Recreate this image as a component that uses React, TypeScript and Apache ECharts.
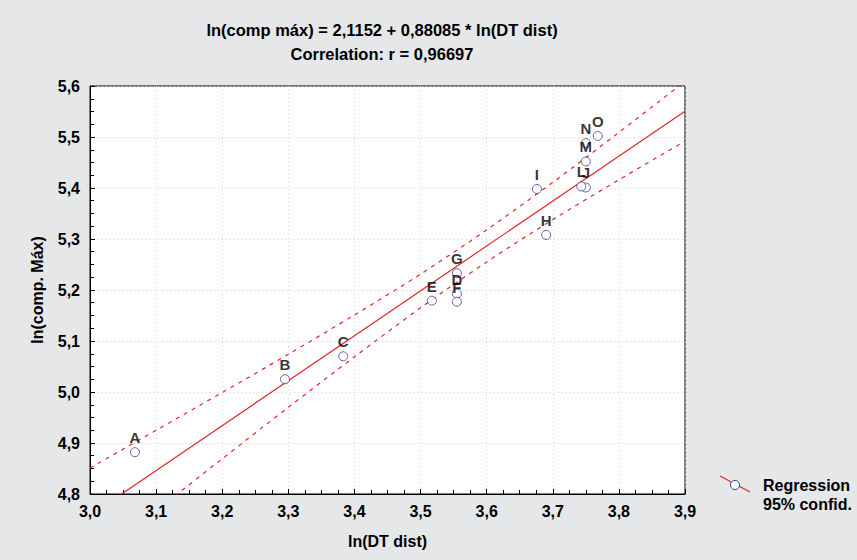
import React, { useEffect, useRef } from "react";
import * as echarts from "echarts";

const pointLabels = ["A", "B", "C", "D", "E", "F", "G", "H", "I", "J", "L", "M", "N", "O"];
const pointX = [3.068, 3.295, 3.383, 3.555, 3.517, 3.555, 3.555, 3.690, 3.676, 3.750, 3.743, 3.750, 3.750, 3.768];
const pointY = [4.882, 5.025, 5.070, 5.193, 5.179, 5.177, 5.233, 5.308, 5.398, 5.401, 5.403, 5.452, 5.488, 5.502];

const regX = [3.0, 3.9];
const regY = [4.7578, 5.5506];

const bandX = [3.0, 3.1, 3.2, 3.3, 3.4, 3.5, 3.6, 3.7, 3.8, 3.9];
const bandUpper = [4.851, 4.925, 4.999, 5.074, 5.151, 5.231, 5.318, 5.411, 5.509, 5.609];
const bandLower = [4.665, 4.767, 4.869, 4.970, 5.069, 5.165, 5.255, 5.338, 5.416, 5.492];

const titleLines = ["ln(comp máx) = 2,1152 + 0,88085 * ln(DT dist)", "Correlation: r = 0,96697"];
const xName = "ln(DT dist)";
const yName = "ln(comp. Máx)";
const legendLines = ["Regression", "95% confid."];

const FONT = "'Liberation Sans', Arial, sans-serif";
const RED = "#e3242b";
const BLUE = "#3a3d9e";

export default function App() {
  const ref = useRef<HTMLDivElement>(null);
  useEffect(() => {
    if (!ref.current) return;
    const chart = echarts.init(ref.current, undefined, { renderer: "svg" });
    const fmt = (v: number) => v.toFixed(1).replace(".", ",");
    chart.setOption({
      animation: false,
      backgroundColor: "#e6e7e9",
      textStyle: { fontFamily: FONT },
      title: {
        text: titleLines.join("\n"),
        left: 377,
        top: 13,
        textAlign: "center",
        textStyle: { fontFamily: FONT, fontSize: 16.5, fontWeight: "bold", color: "#000", lineHeight: 24 },
      },
      grid: {
        left: 90,
        right: 172,
        top: 86,
        bottom: 66,
        show: true,
        backgroundColor: "#ffffff",
        borderColor: "#000",
        borderWidth: 1,
      },
      xAxis: {
        type: "value",
        min: 3.0,
        max: 3.9,
        interval: 0.1,
        name: xName,
        nameLocation: "middle",
        nameGap: 39,
        nameTextStyle: { fontFamily: FONT, fontSize: 16, fontWeight: "bold", color: "#000" },
        axisLine: { show: true, onZero: false, lineStyle: { color: "#000", width: 1 } },
        axisTick: { show: true, inside: true, length: 5, lineStyle: { color: "#000" } },
        minorTick: { show: true, splitNumber: 4, length: 4, lineStyle: { color: "#000" } },
        axisLabel: { formatter: fmt, fontFamily: FONT, fontSize: 16, fontWeight: "bold", color: "#000", margin: 9 },
        splitLine: { show: true, lineStyle: { color: "#cfcfcf", type: [1, 3] } },
      },
      yAxis: {
        type: "value",
        min: 4.8,
        max: 5.6,
        interval: 0.1,
        name: yName,
        nameLocation: "middle",
        nameGap: 45,
        nameTextStyle: { fontFamily: FONT, fontSize: 16, fontWeight: "bold", color: "#000" },
        axisLine: { show: true, onZero: false, lineStyle: { color: "#000", width: 1 } },
        axisTick: { show: true, inside: true, length: 5, lineStyle: { color: "#000" } },
        minorTick: { show: true, splitNumber: 4, length: 4, lineStyle: { color: "#000" } },
        axisLabel: { formatter: fmt, fontFamily: FONT, fontSize: 16, fontWeight: "bold", color: "#000", margin: 10 },
        splitLine: { show: true, lineStyle: { color: "#cfcfcf", type: [1, 3] } },
      },
      series: [
        {
          type: "line",
          data: regX.map((x, i) => [x, regY[i]]),
          showSymbol: false,
          symbol: "none",
          clip: true,
          lineStyle: { color: RED, width: 1.2 },
          z: 2,
        },
        {
          type: "line",
          data: bandX.map((x, i) => [x, bandUpper[i]]),
          symbol: "none",
          smooth: 0.3,
          clip: true,
          lineStyle: { color: RED, width: 1.2, type: [4, 5] },
          z: 2,
        },
        {
          type: "line",
          data: bandX.map((x, i) => [x, bandLower[i]]),
          symbol: "none",
          smooth: 0.3,
          clip: true,
          lineStyle: { color: RED, width: 1.2, type: [4, 5] },
          z: 2,
        },
        {
          type: "scatter",
          data: pointX.map((x, i) => ({ value: [x, pointY[i]], name: pointLabels[i] })),
          symbol: "circle",
          symbolSize: 9,
          itemStyle: { color: "#ffffff", borderColor: BLUE, borderWidth: 1 },
          label: {
            show: true,
            position: "top",
            distance: 2,
            formatter: (p: any) => p.name,
            fontFamily: FONT,
            fontSize: 15,
            fontWeight: "bold",
            color: "#000",
          },
          z: 3,
        },
      ],
      graphic: [
        { type: "line", shape: { x1: 720, y1: 476, x2: 750, y2: 492 }, style: { stroke: RED, lineWidth: 1.2 } },
        { type: "circle", shape: { cx: 735, cy: 485, r: 4.5 }, style: { fill: "#fff", stroke: BLUE, lineWidth: 1 } },
        {
          type: "text",
          left: 763,
          top: 476,
          style: {
            text: legendLines.join("\n"),
            fontFamily: FONT,
            fontSize: 16,
            fontWeight: "bold",
            fill: "#000",
            lineHeight: 19,
          },
        },
      ],
    });
    return () => chart.dispose();
  }, []);
  return <div ref={ref} style={{ width: 857, height: 560, position: "absolute", left: 0, top: 0 }} />;
}
